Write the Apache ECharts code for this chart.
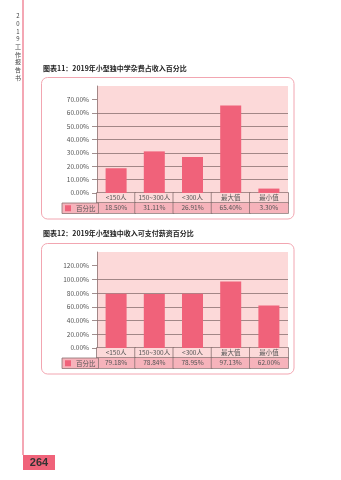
<!DOCTYPE html>
<html><head><meta charset="utf-8">
<script src="https://cdn.jsdelivr.net/npm/echarts@6/dist/echarts.min.js"></script>
<style>html,body{margin:0;padding:0;background:#fff}#c{width:341px;height:480px}</style>
</head><body><div id="c"></div>
<script>
const categories = ['<150人', '150~300人', '<300人', '最大值', '最小值'];
const feeShare = [18.50, 31.11, 26.91, 65.40, 3.30];
const salaryShare = [79.18, 78.84, 78.95, 97.13, 62.00];
const ticks1 = [0, 10, 20, 30, 40, 50, 60, 70];
const ticks2 = [0, 20, 40, 60, 80, 100, 120];
const title1 = '图表11：2019年小型独中学杂费占收入百分比';
const title2 = '图表12：2019年小型独中收入可支付薪资百分比';
const seriesName = '百分比';
const sideText = '2019工作报告书';
const pageNo = '264';

const FONT = '"Noto Sans CJK SC", "Noto Sans", sans-serif';
const BAR = '#f0627a';
const PLOT = '#fcd9d9';
const ROW2 = '#f6b3bb';
const LINE = '#8a7272';
const fmt = v => v.toFixed(2) + '%';

function yAxis(grid, max, interval, ticks) {
  return {
    type: 'value', gridIndex: grid, min: 0, max: max, interval: interval,
    axisLine: {show: true, lineStyle: {color: LINE, width: 0.8}},
    axisTick: {show: true, length: 5, customValues: ticks, lineStyle: {color: LINE, width: 0.8}},
    axisLabel: {customValues: ticks, margin: 8, fontSize: 6.5, color: '#555', fontFamily: FONT,
      formatter: v => (v >= max ? '' : fmt(v))},
    splitLine: {show: true, showMaxLine: false, lineStyle: {color: LINE, width: 0.8}}
  };
}
function catAxis(grid, data, bg, offset, showLine) {
  return {
    type: 'category', gridIndex: grid, data: data, position: 'bottom', offset: offset,
    axisLine: {show: showLine, lineStyle: {color: LINE, width: 0.8}},
    axisTick: {show: false},
    axisLabel: {interval: 0, margin: 0, width: 38.2, height: 10, lineHeight: 10,
      backgroundColor: bg, borderColor: LINE, borderWidth: 0.8, padding: 0,
      fontSize: 6.5, color: '#555', fontFamily: FONT, align: 'center', overflow: 'none'}
  };
}
function legend(top) {
  return {
    data: [seriesName], left: 62, top: top, selectedMode: false,
    icon: 'rect', itemWidth: 6, itemHeight: 6, itemGap: 2,
    backgroundColor: ROW2, borderColor: LINE, borderWidth: 0.8, borderRadius: 0,
    padding: [2, 3, 2, 3],
    textStyle: {fontSize: 6.5, color: '#555', fontFamily: FONT, lineHeight: 6}
  };
}

const chart = echarts.init(document.getElementById('c'));
chart.setOption({
  animation: false,
  textStyle: {fontFamily: FONT},
  title: [
    {text: title1, left: 43, top: 65, padding: 0, textStyle: {fontSize: 7, fontWeight: 'bold', color: '#222', fontFamily: FONT}},
    {text: title2, left: 43, top: 230, padding: 0, textStyle: {fontSize: 7, fontWeight: 'bold', color: '#222', fontFamily: FONT}}
  ],
  legend: [legend(203), legend(358)],
  grid: [
    {left: 97, top: 86, width: 191, height: 107, show: true, backgroundColor: PLOT, borderWidth: 0},
    {left: 97, top: 252, width: 191, height: 96, show: true, backgroundColor: PLOT, borderWidth: 0}
  ],
  xAxis: [
    catAxis(0, categories, PLOT, 0, true),
    catAxis(0, feeShare.map(fmt), ROW2, 10, false),
    catAxis(1, categories, PLOT, 0, true),
    catAxis(1, salaryShare.map(fmt), ROW2, 10, false)
  ],
  yAxis: [yAxis(0, 80, 10, ticks1), yAxis(1, 140, 20, ticks2)],
  series: [
    {name: seriesName, type: 'bar', xAxisIndex: 0, yAxisIndex: 0, data: feeShare, barWidth: '55%', itemStyle: {color: BAR}},
    {name: seriesName, type: 'bar', xAxisIndex: 2, yAxisIndex: 1, data: salaryShare, barWidth: '55%', itemStyle: {color: BAR}}
  ],
  graphic: [
    {type: 'line', shape: {x1: 23, y1: 0, x2: 23, y2: 455}, style: {stroke: '#f08a9b', lineWidth: 1.5}, silent: true},
    {type: 'text', style: {text: sideText.split('').join('\n'), x: 18, y: 12, align: 'center', fontSize: 6, lineHeight: 7.7, fill: '#444', fontFamily: FONT}, silent: true},
    {type: 'rect', shape: {x: 23, y: 455, width: 32, height: 15}, style: {fill: '#f0637a'}, silent: true},
    {type: 'text', style: {text: pageNo, x: 39, y: 463, align: 'center', verticalAlign: 'middle', fontSize: 11, fontWeight: 'bold', fill: '#333', fontFamily: 'Liberation Sans, Arial, sans-serif'}, silent: true},
    {type: 'rect', z: -1, shape: {x: 41.5, y: 77.5, width: 252.5, height: 141.5, r: 6}, style: {fill: 'none', stroke: '#f2a6b1', lineWidth: 1}, silent: true},
    {type: 'rect', z: -1, shape: {x: 41.5, y: 243.5, width: 252.5, height: 130.5, r: 6}, style: {fill: 'none', stroke: '#f2a6b1', lineWidth: 1}, silent: true}
  ]
});
</script></body></html>
